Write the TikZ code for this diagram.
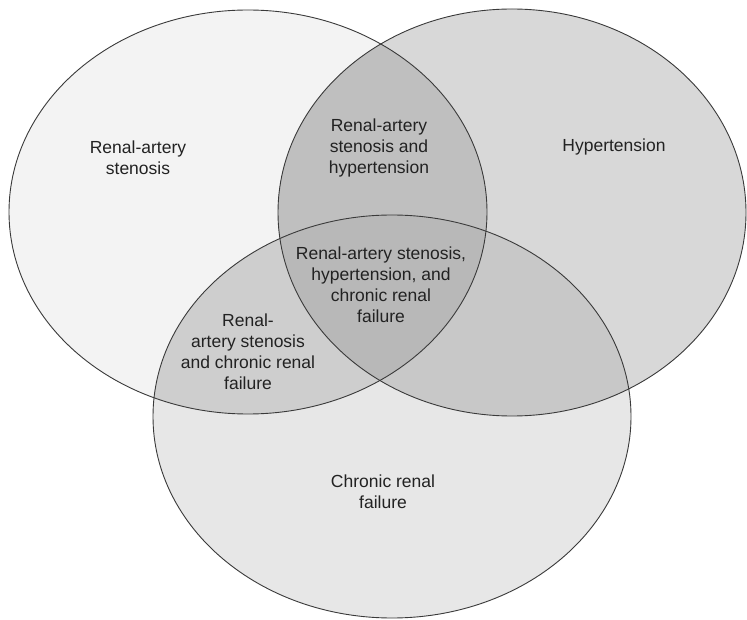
\documentclass[tikz,border=0pt]{standalone}
\usepackage{fontspec}
\setmainfont{Liberation Sans}
\definecolor{cA}{HTML}{F3F3F3}
\definecolor{cB}{HTML}{D8D8D8}
\definecolor{cC}{HTML}{E7E7E7}
\definecolor{cAB}{HTML}{BFBFBF}
\definecolor{cAC}{HTML}{CECECE}
\definecolor{cBC}{HTML}{C8C8C8}
\definecolor{cABC}{HTML}{B8B8B8}
\definecolor{edge}{HTML}{3A3A3A}
\definecolor{ink}{HTML}{222222}
\begin{document}
\begin{tikzpicture}[x=1pt,y=-1pt,
  label/.style={align=center,text=ink,font=\fontsize{17.5}{21}\selectfont,inner sep=0pt},
  outline/.style={draw=edge,line width=0.9pt}]
\useasboundingbox (0,0) rectangle (747,620);
\fill[white] (0,0) rectangle (747,620);
\coordinate (A) at (248,212);
\coordinate (B) at (512,212.5);
\coordinate (C) at (392,416.5);
\def\ellA{(A) ellipse [x radius=239, y radius=202]}
\def\ellB{(B) ellipse [x radius=234, y radius=203.5]}
\def\ellC{(C) ellipse [x radius=239, y radius=201.5]}
% single fills
\fill[cA] \ellA;
\fill[cB] \ellB;
\fill[cC] \ellC;
% pairwise
\begin{scope}\clip \ellA; \fill[cAB] \ellB; \end{scope}
\begin{scope}\clip \ellA; \fill[cAC] \ellC; \end{scope}
\begin{scope}\clip \ellB; \fill[cBC] \ellC; \end{scope}
\begin{scope}\clip \ellA; \clip \ellB; \fill[cABC] \ellC; \end{scope}
% outlines
\draw[outline] \ellA;
\draw[outline] \ellB;
\draw[outline] \ellC;
% labels
\node[label] (ras) at (138,158) {Renal-artery\\stenosis};
\node[label] (rasht) at (379,148) {Renal-artery\\stenosis and\\hypertension};
\node[label] (ht) at (614,147) {Hypertension};
\node[label] (all) at (381,285) {Renal-artery stenosis,\\hypertension, and\\chronic renal\\failure};
\node[label] (rascrf) at (248,352) {Renal-\\artery stenosis\\and chronic renal\\failure};
\node[label] (crf) at (383,492) {Chronic renal\\failure};
\end{tikzpicture}
\end{document}
